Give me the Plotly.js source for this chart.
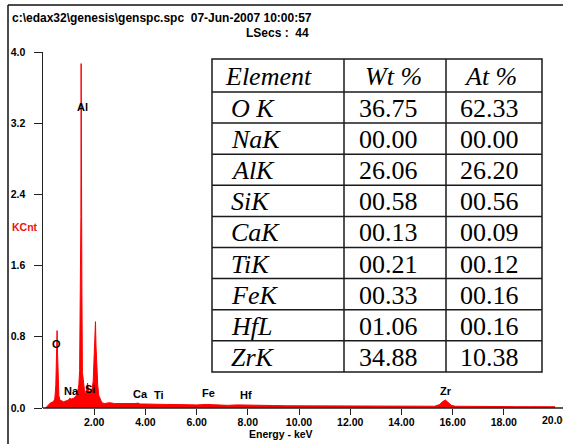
<!DOCTYPE html>
<html>
<head>
<meta charset="utf-8">
<script src="https://cdn.plot.ly/plotly-3.0.1.min.js"></script>
<style>html,body{margin:0;padding:0;background:#fff;}#chart{width:563px;height:444px;}</style>
</head>
<body>
<div id="chart"></div>
<script>
// Spectrum (energy in keV, counts in KCnt)
const energy = [0.10,0.20,0.30,0.40,0.46,0.50,0.53,0.55,0.57,0.59,0.62,0.66,0.72,0.80,0.90,1.00,1.04,1.10,1.20,1.30,1.36,1.40,1.43,1.46,1.48,1.49,1.50,1.52,1.54,1.58,1.62,1.66,1.70,1.74,1.78,1.84,1.90,1.96,2.00,2.03,2.05,2.07,2.10,2.14,2.18,2.24,2.30,2.40,2.60,2.80,3.00,3.20,3.40,3.60,3.70,3.80,4.00,4.30,4.50,4.80,5.00,5.50,6.00,6.40,6.80,7.20,7.60,7.90,8.20,8.60,9.00,9.50,10.0,10.5,11.0,11.5,12.0,12.5,13.0,13.5,14.0,14.5,15.0,15.3,15.5,15.6,15.72,15.85,15.95,16.1,16.5,17.0,17.5,18.0,18.5,19.0,19.5,20.0];
const kcnt = [0.00,0.03,0.06,0.07,0.10,0.25,0.50,0.87,0.60,0.30,0.14,0.09,0.08,0.07,0.08,0.09,0.11,0.10,0.11,0.14,0.19,0.26,0.42,1.57,2.15,3.87,2.15,1.30,0.40,0.28,0.20,0.16,0.18,0.28,0.20,0.17,0.18,0.30,0.55,0.80,0.97,0.70,0.45,0.25,0.14,0.09,0.06,0.05,0.06,0.05,0.05,0.05,0.045,0.05,0.055,0.045,0.045,0.04,0.045,0.04,0.04,0.035,0.035,0.04,0.035,0.03,0.035,0.035,0.03,0.028,0.028,0.025,0.025,0.022,0.022,0.02,0.02,0.02,0.02,0.018,0.018,0.018,0.018,0.02,0.04,0.07,0.09,0.06,0.03,0.02,0.018,0.017,0.016,0.016,0.015,0.015,0.014,0.014];

// Peak labels
const peakNames = ["O","Na","Al","Si","Ca","Ti","Fe","Hf","Zr"];
const peakE     = [0.52,1.11,1.55,1.82,3.80,4.55,6.47,7.93,15.74];
const peakY     = [0.72,0.19,3.38,0.21,0.154,0.15,0.165,0.147,0.19];

// Axis ticks
const xTickVals = [2,4,6,8,10,12,14,16,18];
const xTickText = ["2.00","4.00","6.00","8.00","10.00","12.00","14.00","16.00","18.00"];
const yTickVals = [0,0.8,1.6,2.4,3.2,4.0];
const yTickText = ["0.0","0.8","1.6","2.4","3.2","4.0"];

// Composition table
const tableHeader = ["Element","Wt %","At %"];
const elements = ["O K","NaK","AlK","SiK","CaK","TiK","FeK","HfL","ZrK"];
const wtPct = ["36.75","00.00","26.06","00.58","00.13","00.21","00.33","01.06","34.88"];
const atPct = ["62.33","00.00","26.20","00.56","00.09","00.12","00.16","00.16","10.38"];

const W = 563, H = 444, L = 43, R = 8, T = 52, B = 36;
const pw = W - L - R, ph = H - T - B;
const px = v => (v - L) / pw;
const py = v => (H - B - v) / ph;

const boldFont = {family: "Liberation Sans, Arial, sans-serif", size: 10.5, color: "#000", weight: "bold"};
const labelFont = Object.assign({}, boldFont, {size: 11});
const titleFont = Object.assign({}, boldFont, {size: 12});
const serifFont = {family: "Liberation Serif, Times New Roman, serif", size: 26, color: "#000"};

const spectrum = {
  type: "scatter", mode: "lines", x: energy, y: kcnt,
  fill: "tozeroy", fillcolor: "#ff0000",
  line: {color: "#ff0000", width: 1}, hoverinfo: "skip", showlegend: false
};

const annotations = peakNames.map((n, i) => ({
  x: peakE[i], y: peakY[i], xref: "x", yref: "y", text: n, showarrow: false, font: labelFont
}));
annotations.push({x: 20, y: 0, xref: "x", yref: "y", yshift: -12, yanchor: "middle", text: "20.00", showarrow: false, font: boldFont});
annotations.push({x: px(10), y: py(18), xref: "paper", yref: "paper", xanchor: "left", yanchor: "middle", text: "c:\\edax32\\genesis\\genspc.spc\u00a0\u00a007-Jun-2007 10:00:57", showarrow: false, font: titleFont});
annotations.push({x: px(311), y: py(33), xref: "paper", yref: "paper", xanchor: "right", yanchor: "middle", text: "LSecs :\u00a0\u00a044", showarrow: false, font: titleFont});
annotations.push({x: px(10), y: py(227), xref: "paper", yref: "paper", xanchor: "left", yanchor: "middle", text: "KCnt", showarrow: false, font: Object.assign({}, boldFont, {color: "#ee1111"})});
annotations.push({x: px(281), y: py(434), xref: "paper", yref: "paper", xanchor: "center", yanchor: "middle", text: "Energy - keV", showarrow: false, font: boldFont});

// Table geometry (pixels)
const colEdges = [212, 344, 446, 542];
const headerTop = 59, headerBottom = 92, rowH = 31.1;
const headerTextX = [223, 363, 462];
const cellTextX = [229, 357, 458];
const tableLine = {color: "#1a1a1a", width: 1.5};

const shapes = [
  {type: "line", xref: "paper", yref: "paper", x0: px(8), x1: px(8), y0: py(5), y1: py(444), line: {color: "#111", width: 1.5}},
  {type: "line", xref: "paper", yref: "paper", x0: px(8), x1: px(563), y0: py(5), y1: py(5), line: {color: "#111", width: 1.5}},
  {type: "line", xref: "paper", yref: "paper", x0: 0, x1: px(563), y0: 0, y1: 0, line: {color: "#222", width: 1.5}}
];
const nRows = elements.length;
const tableBottom = headerBottom + nRows * rowH;
shapes.push({type: "rect", xref: "paper", yref: "paper", x0: px(colEdges[0]), x1: px(colEdges[3]), y0: py(headerTop), y1: py(tableBottom), fillcolor: "#fff", line: tableLine});
[colEdges[1], colEdges[2]].forEach(xe => shapes.push({type: "line", xref: "paper", yref: "paper", x0: px(xe), x1: px(xe), y0: py(headerTop), y1: py(tableBottom), line: tableLine}));
for (let r = 0; r < nRows; r++) {
  const yl = headerBottom + r * rowH;
  shapes.push({type: "line", xref: "paper", yref: "paper", x0: px(colEdges[0]), x1: px(colEdges[3]), y0: py(yl), y1: py(yl), line: tableLine});
}
tableHeader.forEach((h, c) => annotations.push({
  x: px(headerTextX[c]), y: py((headerTop + headerBottom) / 2 + 1), xref: "paper", yref: "paper",
  xanchor: "left", yanchor: "middle", text: "<i>" + h + "</i>", showarrow: false, font: serifFont
}));
const cols = [elements.map(e => "<i>" + e + "</i>"), wtPct, atPct];
for (let r = 0; r < nRows; r++) {
  const yc = headerBottom + (r + 0.5) * rowH + 1;
  cols.forEach((col, c) => annotations.push({
    x: px(cellTextX[c]), y: py(yc), xref: "paper", yref: "paper",
    xanchor: "left", yanchor: "middle", text: col[r], showarrow: false, font: serifFont
  }));
}

const layout = {
  width: W, height: H,
  margin: {l: L, r: R, t: T, b: B, pad: 0},
  paper_bgcolor: "#fff", plot_bgcolor: "#fff",
  showlegend: false,
  xaxis: {
    range: [0, 20], tickvals: xTickVals, ticktext: xTickText,
    ticks: "outside", ticklen: 6, tickcolor: "#222", tickwidth: 1,
    showgrid: false, zeroline: false, showline: false,
    tickfont: boldFont, ticklabelstandoff: -2, fixedrange: true
  },
  yaxis: {
    range: [0, 4], tickvals: yTickVals, ticktext: yTickText,
    ticks: "outside", ticklen: 8, tickcolor: "#222", tickwidth: 1,
    showgrid: false, zeroline: false, showline: true, linecolor: "#222", linewidth: 1.5,
    tickfont: boldFont, ticklabelstandoff: 6, fixedrange: true
  },
  shapes: shapes,
  annotations: annotations
};

Plotly.newPlot("chart", [spectrum], layout, {displayModeBar: false, staticPlot: true});
</script>
</body>
</html>
